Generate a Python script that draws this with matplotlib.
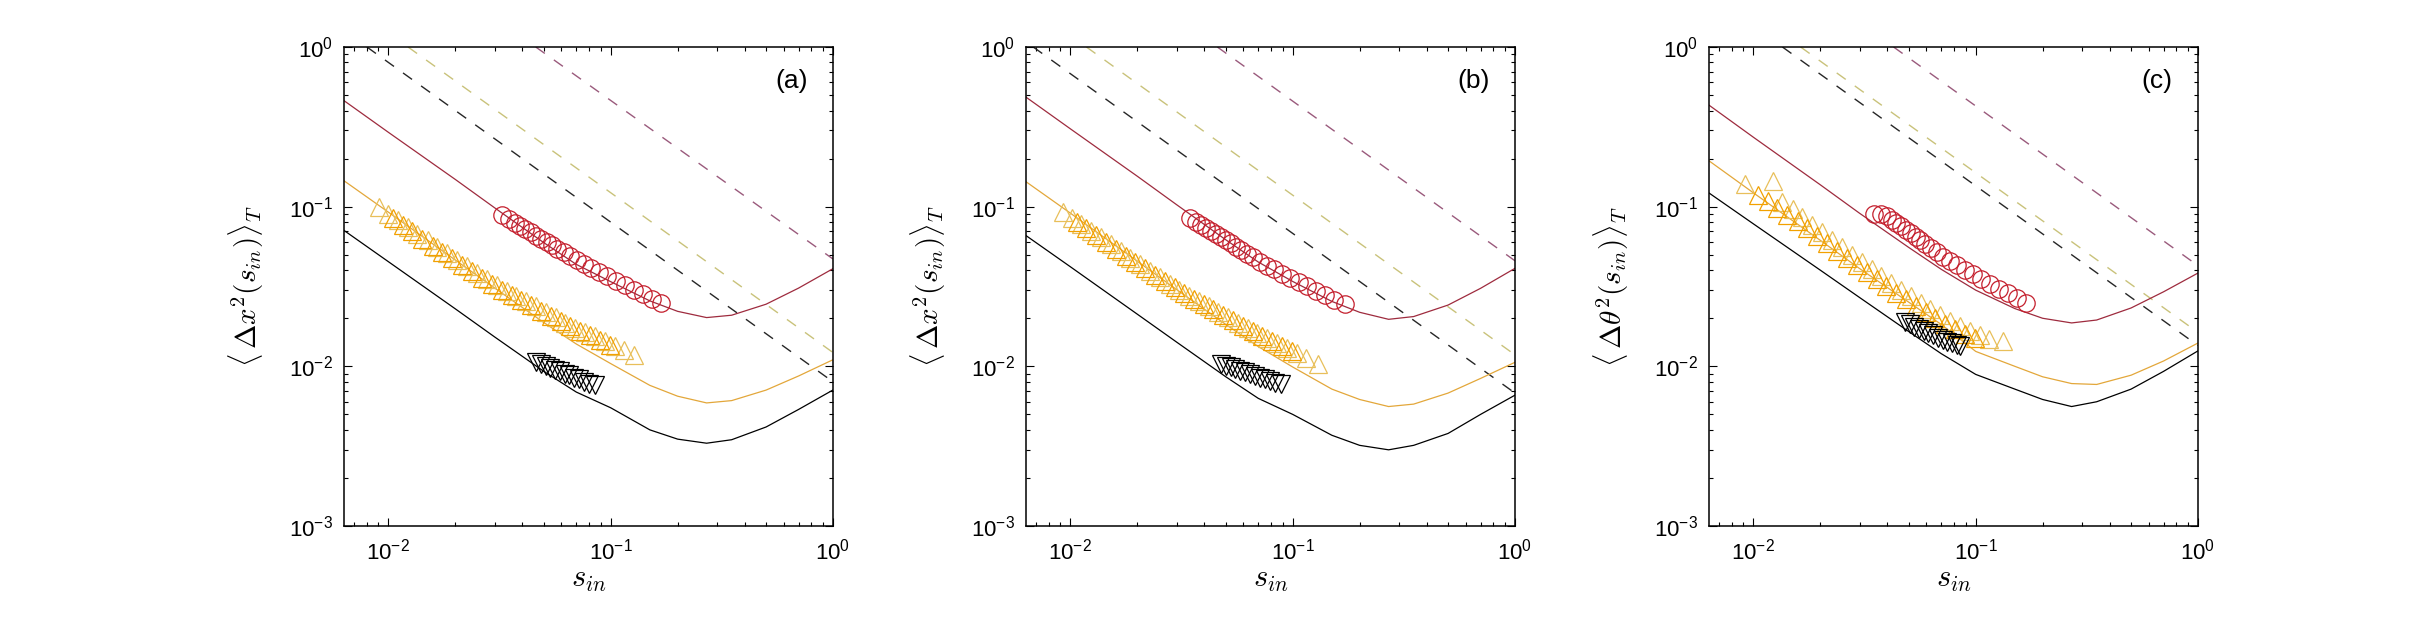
import numpy as np
import matplotlib
matplotlib.use("Agg")
import matplotlib.pyplot as plt
from matplotlib.ticker import FuncFormatter, NullFormatter, LogLocator

plt.rcParams["font.family"] = ["Liberation Sans", "DejaVu Sans"]
plt.rcParams["mathtext.fontset"] = "cm"

# x grid of the model curves
grid_x = [0.0063, 0.01, 0.02, 0.03, 0.05, 0.07, 0.1, 0.15, 0.2, 0.27, 0.35, 0.5, 0.7, 1.0]

# solid model curves, one list per colour and panel
a_red = [0.462, 0.292, 0.148, 0.0985, 0.0595, 0.0435, 0.0339, 0.0257, 0.0221, 0.0202, 0.0209, 0.0245, 0.0309, 0.0409]
a_orange = [0.1455, 0.0923, 0.0463, 0.0310, 0.0188, 0.0138, 0.0104, 0.0076, 0.0065, 0.0059, 0.0061, 0.0071, 0.0087, 0.0110]
a_black = [0.0711, 0.0452, 0.0229, 0.0153, 0.0093, 0.0069, 0.0055, 0.0040, 0.0035, 0.0033, 0.00347, 0.00417, 0.00537, 0.00711]

b_red = [0.486, 0.307, 0.155, 0.103, 0.062, 0.045, 0.0340, 0.0255, 0.0218, 0.0197, 0.0205, 0.0242, 0.0308, 0.0411]
b_orange = [0.1435, 0.091, 0.0455, 0.0303, 0.0183, 0.0133, 0.0099, 0.0072, 0.0062, 0.0056, 0.0058, 0.0068, 0.0084, 0.0106]
b_black = [0.066, 0.042, 0.0212, 0.0142, 0.0086, 0.0063, 0.0050, 0.0037, 0.0032, 0.0030, 0.0032, 0.0038, 0.0050, 0.0066]

c_red = [0.433, 0.272, 0.137, 0.091, 0.0555, 0.0405, 0.0300, 0.0230, 0.0200, 0.0187, 0.0195, 0.0232, 0.0293, 0.0384]
c_orange = [0.194, 0.122, 0.0615, 0.041, 0.0252, 0.0183, 0.0124, 0.0100, 0.0086, 0.0078, 0.0077, 0.0088, 0.0108, 0.0140]
c_black = [0.122, 0.078, 0.040, 0.0270, 0.0165, 0.0120, 0.0089, 0.0072, 0.0062, 0.0056, 0.0060, 0.0072, 0.0093, 0.0125]

# dashed straight lines: x where they leave the top edge, value at x = 1
dash_x_start = {"a": [0.0080, 0.01225, 0.046], "b": [0.0068, 0.0118, 0.0458], "c": [0.0135, 0.0163, 0.0427]}
dash_y_end = {"a": [0.0080, 0.0122, 0.047], "b": [0.0068, 0.0118, 0.0458], "c": [0.0135, 0.0163, 0.0427]}

# open circles (red)
a_circ_x = [0.0325, 0.0350, 0.0370, 0.0391, 0.0413, 0.0437, 0.0461, 0.0488, 0.0515, 0.0544, 0.0575, 0.0615,
            0.0655, 0.0705, 0.0759, 0.0817, 0.0889, 0.0964, 0.1057, 0.1159, 0.1271, 0.1393, 0.1528, 0.1675]
a_circ_y = [0.0885, 0.0832, 0.0794, 0.0759, 0.0724, 0.0690, 0.0659, 0.0630, 0.0601, 0.0574, 0.0547, 0.0518,
            0.0491, 0.0462, 0.0437, 0.0413, 0.0388, 0.0366, 0.0343, 0.0321, 0.0300, 0.0282, 0.0265, 0.0248]
b_circ_x = [0.0345, 0.0368, 0.0388, 0.0408, 0.0430, 0.0452, 0.0476, 0.0502, 0.0528, 0.0556, 0.0587, 0.0625,
            0.0665, 0.0715, 0.0768, 0.0826, 0.0897, 0.0972, 0.1065, 0.1165, 0.1275, 0.1400, 0.1535, 0.1710]
b_circ_y = [0.0850, 0.0805, 0.0770, 0.0738, 0.0705, 0.0673, 0.0643, 0.0615, 0.0588, 0.0561, 0.0535, 0.0507,
            0.0481, 0.0453, 0.0428, 0.0405, 0.0381, 0.0360, 0.0338, 0.0317, 0.0297, 0.0279, 0.0262, 0.0244]
c_circ_x = [0.0350, 0.0375, 0.0400, 0.0420, 0.0440, 0.0462, 0.0485, 0.0510, 0.0536, 0.0563, 0.0593, 0.0628,
            0.0667, 0.0715, 0.0766, 0.0823, 0.0892, 0.0968, 0.1060, 0.1160, 0.1270, 0.1395, 0.1535, 0.1690]
c_circ_y = [0.0900, 0.0895, 0.0880, 0.0830, 0.0790, 0.0752, 0.0717, 0.0683, 0.0650, 0.0618, 0.0587, 0.0552,
            0.0520, 0.0487, 0.0458, 0.0430, 0.0401, 0.0376, 0.0350, 0.0327, 0.0306, 0.0286, 0.0268, 0.0250]

# open up-triangles, two shades of orange
a_tri1_x = [0.0091, 0.0100, 0.0110, 0.0122, 0.0135, 0.0150, 0.0166, 0.0184, 0.0204, 0.0226, 0.0250, 0.0277, 0.0307, 0.0340,
            0.0376, 0.0416, 0.0460, 0.0510, 0.0565, 0.0625, 0.0692, 0.0766, 0.0848, 0.0938, 0.1040, 0.1150, 0.1275]
a_tri1_y = [0.0991, 0.0906, 0.0826, 0.0748, 0.0679, 0.0614, 0.0558, 0.0509, 0.0464, 0.0423, 0.0386, 0.0352, 0.0322, 0.0297,
            0.0275, 0.0255, 0.0237, 0.0219, 0.0203, 0.0188, 0.0175, 0.0164, 0.0154, 0.0144, 0.0135, 0.0126, 0.0118]
a_tri2_x = [0.0105, 0.0116, 0.0128, 0.0142, 0.0158, 0.0175, 0.0194, 0.0215, 0.0238, 0.0263, 0.0292, 0.0323,
            0.0358, 0.0396, 0.0438, 0.0485, 0.0537, 0.0595, 0.0658, 0.0729, 0.0807, 0.0893, 0.0988]
a_tri2_y = [0.0850, 0.0770, 0.0700, 0.0630, 0.0570, 0.0520, 0.0475, 0.0433, 0.0395, 0.0360, 0.0330, 0.0302,
            0.0280, 0.0260, 0.0241, 0.0223, 0.0207, 0.0191, 0.0178, 0.0166, 0.0156, 0.0146, 0.0137]

b_tri1_x = [0.0093, 0.0102, 0.0112, 0.0124, 0.0137, 0.0152, 0.0168, 0.0186, 0.0206, 0.0228, 0.0252, 0.0279, 0.0309, 0.0342,
            0.0378, 0.0418, 0.0462, 0.0512, 0.0567, 0.0627, 0.0694, 0.0768, 0.0850, 0.0940, 0.1042, 0.1152, 0.1300]
b_tri1_y = [0.0930, 0.0855, 0.0780, 0.0707, 0.0642, 0.0580, 0.0526, 0.0480, 0.0437, 0.0398, 0.0362, 0.0330, 0.0301, 0.0277,
            0.0256, 0.0237, 0.0220, 0.0203, 0.0188, 0.0174, 0.0161, 0.0150, 0.0140, 0.0130, 0.0121, 0.0112, 0.0104]
b_tri2_x = [0.0107, 0.0118, 0.0130, 0.0144, 0.0160, 0.0177, 0.0196, 0.0217, 0.0240, 0.0265, 0.0294, 0.0325,
            0.0360, 0.0398, 0.0440, 0.0487, 0.0539, 0.0597, 0.0660, 0.0731, 0.0809, 0.0895, 0.0990]
b_tri2_y = [0.0805, 0.0730, 0.0662, 0.0597, 0.0540, 0.0492, 0.0450, 0.0410, 0.0374, 0.0341, 0.0312, 0.0286,
            0.0264, 0.0245, 0.0227, 0.0210, 0.0194, 0.0179, 0.0166, 0.0154, 0.0144, 0.0134, 0.0125]

c_tri1_x = [0.0092, 0.0122, 0.0135, 0.0150, 0.0166, 0.0184, 0.0204, 0.0226, 0.0250, 0.0277, 0.0307, 0.0340, 0.0376,
            0.0416, 0.0460, 0.0510, 0.0565, 0.0625, 0.0692, 0.0766, 0.0848, 0.0938, 0.1040, 0.1150, 0.1320]
c_tri1_y = [0.1380, 0.1440, 0.1070, 0.0960, 0.0860, 0.0770, 0.0690, 0.0620, 0.0556, 0.0500, 0.0450, 0.0405, 0.0366,
            0.0332, 0.0302, 0.0275, 0.0250, 0.0229, 0.0210, 0.0193, 0.0178, 0.0166, 0.0156, 0.0148, 0.0144]
c_tri2_x = [0.0105, 0.0116, 0.0128, 0.0142, 0.0158, 0.0175, 0.0194, 0.0215, 0.0238, 0.0263, 0.0292, 0.0323,
            0.0358, 0.0396, 0.0438, 0.0485, 0.0537, 0.0595, 0.0658, 0.0729, 0.0807, 0.0893, 0.0988]
c_tri2_y = [0.1180, 0.1080, 0.0980, 0.0890, 0.0810, 0.0730, 0.0655, 0.0590, 0.0530, 0.0478, 0.0430, 0.0388,
            0.0350, 0.0318, 0.0289, 0.0263, 0.0240, 0.0219, 0.0201, 0.0185, 0.0171, 0.0160, 0.0150]

# open down-triangles (black)
a_dtri_x = [0.0460, 0.0485, 0.0510, 0.0535, 0.0560, 0.0590, 0.0620, 0.0650, 0.0685, 0.0720, 0.0760, 0.0800, 0.0850]
a_dtri_y = [0.0106, 0.0103, 0.0101, 0.0098, 0.0095, 0.0093, 0.0090, 0.0088, 0.0085, 0.0083, 0.0080, 0.0078, 0.0076]
b_dtri_x = [0.0475, 0.0500, 0.0525, 0.0552, 0.0580, 0.0610, 0.0642, 0.0675, 0.0710, 0.0748, 0.0790, 0.0835, 0.0890]
b_dtri_y = [0.0103, 0.0101, 0.0099, 0.0096, 0.0094, 0.0092, 0.0089, 0.0087, 0.0085, 0.0083, 0.0081, 0.0079, 0.0077]
c_dtri_x = [0.0480, 0.0505, 0.0530, 0.0556, 0.0583, 0.0612, 0.0643, 0.0675, 0.0710, 0.0745, 0.0785, 0.0820, 0.0850]
c_dtri_y = [0.0190, 0.0183, 0.0177, 0.0172, 0.0166, 0.0161, 0.0156, 0.0151, 0.0147, 0.0143, 0.0140, 0.0137, 0.0134]

panel_names = ["a", "b", "c"]
ylabels = [r"$\langle\,\Delta x^2(s_{in})\rangle_T$",
           r"$\langle\,\Delta x^2(s_{in})\rangle_T$",
           r"$\langle\,\Delta \theta^2(s_{in})\rangle_T$"]

solids = {"a": (a_red, a_orange, a_black), "b": (b_red, b_orange, b_black), "c": (c_red, c_orange, c_black)}
circs = {"a": (a_circ_x, a_circ_y), "b": (b_circ_x, b_circ_y), "c": (c_circ_x, c_circ_y)}
tris1 = {"a": (a_tri1_x, a_tri1_y), "b": (b_tri1_x, b_tri1_y), "c": (c_tri1_x, c_tri1_y)}
tris2 = {"a": (a_tri2_x, a_tri2_y), "b": (b_tri2_x, b_tri2_y), "c": (c_tri2_x, c_tri2_y)}
dtris = {"a": (a_dtri_x, a_dtri_y), "b": (b_dtri_x, b_dtri_y), "c": (c_dtri_x, c_dtri_y)}

RED_LINE = "#9e2b3e"
ORANGE_LINE = "#e3a73a"
BLACK = "#000000"
DASH_COLORS = ["#262626", "#c9c27a", "#9a5a7c"]
CIRC = "#c41e2c"
TRI1 = "#e8bf5a"
TRI2 = "#f2a000"


def log_label(v, pos):
  e = int(round(np.log10(v)))
  return r"$\mathregular{10^{%d}}$" % e


fig = plt.figure(figsize=(24.27, 6.41), dpi=100)
lefts = [344 / 2427, 1026 / 2427, 1709 / 2427]
W = 489 / 2427
B = (641 - 526) / 641
H = 479 / 641

for i, p in enumerate(panel_names):
  ax = fig.add_axes([lefts[i], B, W, H])
  ax.set_xscale("log")
  ax.set_yscale("log")

  for xs, ye, col in zip(dash_x_start[p], dash_y_end[p], DASH_COLORS):
    ax.plot([xs, 1.0], [1.0, ye], color=col, lw=1.0, ls=(0, (8, 8)))

  red, orange, black = solids[p]
  ax.plot(grid_x, red, color=RED_LINE, lw=0.9)
  ax.plot(grid_x, orange, color=ORANGE_LINE, lw=0.9)
  ax.plot(grid_x, black, color=BLACK, lw=0.9)

  tx, ty = tris1[p]
  ax.plot(tx, ty, ls="none", marker="^", ms=13.5, mfc="none", mec=TRI1, mew=0.9)
  tx, ty = tris2[p]
  ax.plot(tx, ty, ls="none", marker="^", ms=13.5, mfc="none", mec=TRI2, mew=0.9)
  dx, dy = dtris[p]
  ax.plot(dx, dy, ls="none", marker="v", ms=13, mfc="none", mec=BLACK, mew=0.9)
  cx, cy = circs[p]
  ax.plot(cx, cy, ls="none", marker="o", ms=12.5, mfc="none", mec=CIRC, mew=0.9)

  ax.set_xlim(10 ** -2.2, 1.0)
  ax.set_ylim(1e-3, 1.0)
  ax.xaxis.set_major_locator(LogLocator(base=10, numticks=10))
  ax.yaxis.set_major_locator(LogLocator(base=10, numticks=10))
  ax.xaxis.set_major_formatter(FuncFormatter(log_label))
  ax.yaxis.set_major_formatter(FuncFormatter(log_label))
  ax.xaxis.set_minor_formatter(NullFormatter())
  ax.yaxis.set_minor_formatter(NullFormatter())
  ax.tick_params(which="both", direction="in", top=True, right=True, width=0.8, labelsize=16)
  ax.tick_params(which="major", length=6)
  ax.tick_params(which="minor", length=3)
  ax.tick_params(axis="y", pad=8)
  ax.tick_params(axis="x", pad=9)
  for s in ax.spines.values():
    s.set_linewidth(1.1)

  ax.set_xlabel(r"$s_{in}$", fontsize=22, labelpad=0)
  ax.set_ylabel(ylabels[i], fontsize=21)
  ax.yaxis.set_label_coords(-0.16, 0.5)
  ax.text(0.915, 0.93, "(%s)" % p, transform=ax.transAxes, fontsize=19, ha="center", va="center")

fig.savefig("out.png", dpi=100)
